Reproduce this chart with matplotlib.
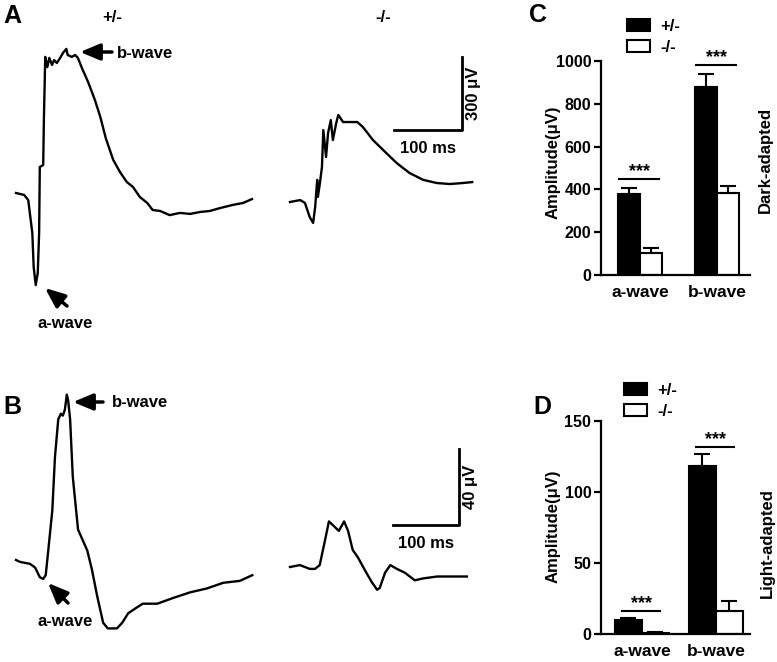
import matplotlib.pyplot as plt
from matplotlib.patches import FancyArrowPatch

plt.rcParams['font.family'] = ['Liberation Sans', 'DejaVu Sans']
plt.rcParams['font.weight'] = 'bold'
plt.rcParams['axes.labelweight'] = 'bold'
plt.rcParams['font.size'] = 12

W, H = 777, 662

# ---- ERG traces: time (ms), amplitude (uV) ----
# dark-adapted +/-
dark_het_t = [0, 12, 18, 24, 26, 29, 32, 34, 35, 40, 41, 43, 46, 49, 53, 56, 60, 65, 69, 74,
              76, 82, 87, 91, 97, 106, 116, 124, 132, 143, 153, 163, 172, 182, 193, 201, 212,
              226, 241, 256, 271, 285, 300, 319, 334, 347]
dark_het_v = [0, -8, -29, -165, -305, -379, -329, -165, 107, 115, 300, 560, 518, 556, 527, 547,
              535, 556, 576, 593, 568, 560, 568, 556, 514, 457, 383, 313, 226, 136, 86, 45, 25,
              -16, -41, -70, -74, -91, -82, -86, -78, -74, -62, -49, -41, -25]
# dark-adapted -/-
dark_ko_t = [0, 15, 22, 29, 34, 37, 40, 41, 44, 47, 49, 53, 56, 60, 63, 68, 71, 74, 78, 85, 99,
             107, 122, 137, 157, 176, 196, 216, 235, 254, 268]
dark_ko_v = [0, 8, -4, -62, -86, -21, 91, 21, 78, 144, 296, 185, 284, 337, 255, 325, 358, 346,
             329, 329, 329, 309, 255, 214, 160, 119, 91, 78, 74, 78, 82]
# light-adapted +/-
light_het_t = [0, 6, 21, 29, 36, 41, 45, 48, 55, 59, 64, 68, 71, 74, 77, 79, 82, 86, 94, 108,
               115, 123, 132, 139, 153, 161, 170, 183, 192, 214, 238, 264, 289, 314, 339, 358]
light_het_v = [0, -1, -2, -4, -9, -10, -8, 2, 26, 54, 74, 77, 76, 79, 87, 84, 74, 44, 16, 5,
               -5, -19, -33, -36, -36, -33, -28, -25, -23, -23, -20, -17, -15, -12, -11, -8]
# light-adapted -/-
light_ko_t = [0, 15, 30, 38, 45, 53, 59, 68, 74, 82, 88, 95, 103, 114, 124, 132, 136, 144, 152,
              162, 174, 189, 202, 223, 242, 268]
light_ko_v = [0, 1, -1, -1, 1, 14, 24, 21, 19, 24, 19, 9, 5, -2, -8, -12, -11, -3, 1, -1, -3,
              -7, -6, -5, -5, -5]

# ---- bar data ----
waves = ['a-wave', 'b-wave']
groups = ['+/-', '-/-']
dark_het = [378, 879]
dark_het_err = [28, 60]
dark_ko = [103, 383]
dark_ko_err = [23, 33]
dark_sig = [449, 981]
light_het = [10.2, 118]
light_het_err = [0.8, 8.5]
light_ko = [0.8, 16]
light_ko_err = [0.3, 7]
light_sig = [16.2, 131.7]

fig = plt.figure(figsize=(W / 100, H / 100), dpi=100)


def fp(x, y):
    # figure pixel (from top-left) -> figure fraction
    return (x / W, 1 - y / H)


def trace_ax(l, r, t, b, x0, y0, pms, puv):
    ax = fig.add_axes([l / W, 1 - b / H, (r - l) / W, (b - t) / H])
    ax.set_xlim((l - x0) / pms, (r - x0) / pms)
    ax.set_ylim((y0 - b) / puv, (y0 - t) / puv)
    ax.axis('off')
    return ax


def arrow(tail, head):
    fig.add_artist(FancyArrowPatch(fp(*tail), fp(*head), transform=fig.transFigure,
                                   arrowstyle='-|>,head_length=0.6,head_width=0.25',
                                   mutation_scale=20, lw=2.5, color='k',
                                   shrinkA=0, shrinkB=0))


def scale_bar(ax, t0, v0, dt, dv, tlabel, vlabel):
    ax.plot([t0, t0 + dt, t0 + dt], [v0, v0, v0 + dv], color='k', lw=2, clip_on=False)
    ax.annotate(tlabel, (t0 + dt / 2, v0), xytext=(0, -13), textcoords='offset points',
                ha='center', va='center', fontsize=12)
    ax.annotate(vlabel, (t0 + dt, v0 + dv / 2), xytext=(8, 0), textcoords='offset points',
                ha='center', va='center', rotation=90, fontsize=12)


# panel A
axA1 = trace_ax(5, 270, 35, 300, 16, 193, 0.68, 0.243)
axA1.plot(dark_het_t, dark_het_v, color='k', lw=1.7)
axA2 = trace_ax(280, 500, 35, 300, 290, 202, 0.68, 0.243)
axA2.plot(dark_ko_t, dark_ko_v, color='k', lw=1.7)
scale_bar(axA2, 153, 296, 100, 300, '100 ms', '300 μV')

# panel B
axB1 = trace_ax(5, 270, 380, 650, 16, 560, 0.66, 1.9)
axB1.plot(light_het_t, light_het_v, color='k', lw=1.7)
axB2 = trace_ax(280, 500, 380, 650, 290, 567, 0.66, 1.9)
axB2.plot(light_ko_t, light_ko_v, color='k', lw=1.7)
scale_bar(axB2, 156, 22, 100, 40, '100 ms', '40 μV')

# trace annotations
fig.text(*fp(12, 16), 'A', fontsize=18, ha='center', va='center')
fig.text(*fp(12, 407), 'B', fontsize=18, ha='center', va='center')
fig.text(*fp(112, 17), '+/-', ha='center', va='center')
fig.text(*fp(383, 17), '-/-', ha='center', va='center')
arrow((112, 52), (80, 52))
fig.text(*fp(117, 53), 'b-wave', ha='left', va='center')
arrow((67, 306), (45, 288))
fig.text(*fp(65, 323), 'a-wave', ha='center', va='center')
arrow((103, 402), (73, 402))
fig.text(*fp(112, 402), 'b-wave', ha='left', va='center')
arrow((68, 603), (48, 583))
fig.text(*fp(65, 622), 'a-wave', ha='center', va='center')


def bar_panel(rect, xlim, width, het, het_err, ko, ko_err, sig, ymax, yticks,
              side_label, side_xy, letter, letter_xy, leg_xy, ylab_y):
    l, r, t, b = rect
    ax = fig.add_axes([l / W, 1 - b / H, (r - l) / W, (b - t) / H])
    x = list(range(len(waves)))
    xh = [i - width / 2 for i in x]
    xk = [i + width / 2 for i in x]
    ekw = dict(elinewidth=1.5, capthick=1.5, ecolor='k')
    ax.bar(xh, het, width, color='k', edgecolor='k', lw=1.5, label=groups[0],
           yerr=[[0] * len(het), het_err], capsize=6, error_kw=ekw)
    ax.bar(xk, ko, width, color='white', edgecolor='k', lw=1.5, label=groups[1],
           yerr=[[0] * len(ko), ko_err], capsize=6, error_kw=ekw)
    for i, s in zip(x, sig):
        ax.plot([i - 0.27, i + 0.25], [s, s], color='k', lw=1.5, clip_on=False)
        ax.annotate('***', (i - 0.01, s), xytext=(0, -1), textcoords='offset points',
                    ha='center', va='bottom', fontsize=13)
    ax.set_xlim(*xlim)
    ax.set_ylim(0, ymax)
    ax.set_yticks(yticks)
    ax.set_xticks(x)
    ax.set_xticklabels(waves, fontweight='bold')
    ax.set_yticklabels([str(v) for v in yticks], fontweight='bold')
    for sp in ['top', 'right']:
        ax.spines[sp].set_visible(False)
    for sp in ['left', 'bottom']:
        ax.spines[sp].set_linewidth(1.6)
    ax.tick_params(axis='y', length=5, width=1.6, labelsize=11.5, pad=2)
    ax.tick_params(axis='x', length=0, labelsize=12.5, pad=7)
    ax.set_ylabel('Amplitude(μV)', fontsize=12, fontweight='bold')
    ax.yaxis.set_label_coords((561 - l) / (r - l), (b - ylab_y) / (b - t))
    fig.text(*fp(*side_xy), side_label, rotation=90, ha='center', va='center')
    fig.text(*fp(*letter_xy), letter, fontsize=18, ha='center', va='center')
    ax.legend(loc='upper left', bbox_to_anchor=fp(*leg_xy), bbox_transform=fig.transFigure,
              frameon=False, fontsize=12, borderpad=0, borderaxespad=0,
              handlelength=1.4, handleheight=0.75, handletextpad=0.6, labelspacing=0.35)
    return ax


bar_panel((601, 750, 61, 275), (-0.506, 1.43), 0.286, dark_het, dark_het_err, dark_ko,
          dark_ko_err, dark_sig, 1000, [0, 200, 400, 600, 800, 1000],
          'Dark-adapted', (765, 160), 'C', (538, 15), (627, 19), 162)
bar_panel((601, 750, 421, 634), (-0.554, 1.46), 0.365, light_het, light_het_err, light_ko,
          light_ko_err, light_sig, 150, [0, 50, 100, 150],
          'Light-adapted', (767, 543), 'D', (542, 407), (624, 383), 526)

fig.savefig('out.png', dpi=100)
